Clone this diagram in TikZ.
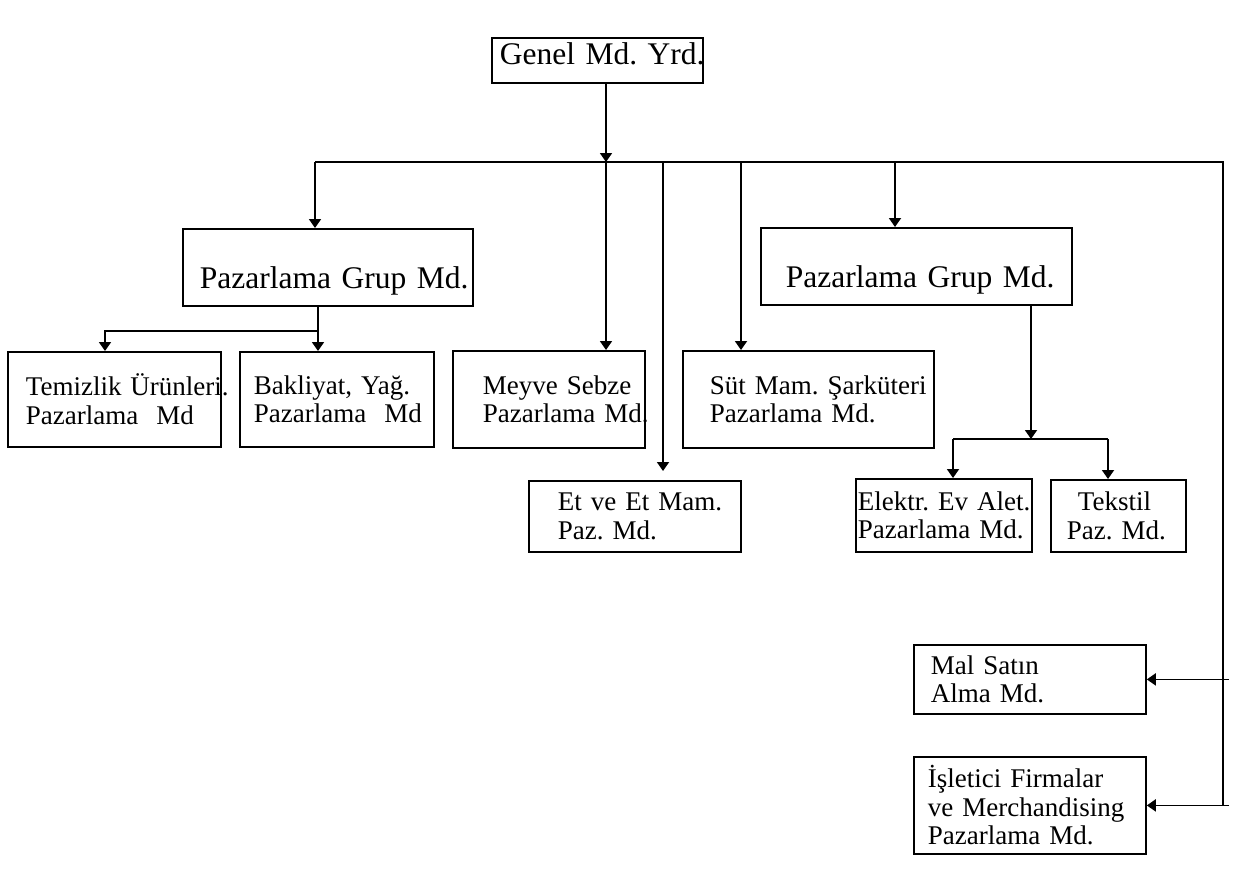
\documentclass[tikz,border=0pt]{standalone}
\usepackage{fontspec}
\setmainfont{Liberation Serif}
\usetikzlibrary{arrows.meta}
\frenchspacing
\begin{document}
\begin{tikzpicture}[x=1pt,y=-1pt,
  line width=1.8pt,
  arr/.style={-{Triangle[length=9pt,width=12pt]}},
  box/.style={draw, anchor=north west, inner ysep=0pt, align=left,
    font=\fontsize{27pt}{28.5pt}\selectfont},
  bigbox/.style={box, font=\fontsize{31.5pt}{33pt}\selectfont},
  grpbox/.style={bigbox, minimum height=77pt, text height=45pt, text depth=2pt},
]
\useasboundingbox (0,0) rectangle (1242,871);

% boxes
\node[bigbox, minimum width=211pt, minimum height=45pt, inner xsep=8pt,
  text width=195pt, text height=21pt, text depth=12pt] (top) at (491,37)
  {\mbox{Genel Md. Yrd.}};
\node[grpbox, minimum width=290pt, inner xsep=17pt, text width=256pt] (pgl) at (182,228)
  {\mbox{Pazarlama Grup Md.}};
\node[grpbox, minimum width=311pt, inner xsep=25pt, text width=261pt] (pgr) at (760,227)
  {\mbox{Pazarlama Grup Md.}};
\node[box, minimum width=213pt, minimum height=95pt, inner xsep=18pt, text width=177pt] (tem) at (7,351)
  {\mbox{Temizlik Ürünleri.}\\\mbox{Pazarlama\ \ Md}};
\node[box, minimum width=194pt, minimum height=95pt, inner xsep=14pt, text width=166pt] (bak) at (239,351)
  {\mbox{Bakliyat, Yağ.}\\\mbox{Pazarlama\ \ Md}};
\node[box, minimum width=192pt, minimum height=97pt, inner xsep=30pt, text width=132pt] (mey) at (452,350)
  {\mbox{Meyve Sebze}\\\mbox{Pazarlama Md.}};
\node[box, minimum width=251pt, minimum height=97pt, inner xsep=27pt, text width=197pt] (sut) at (682,350)
  {\mbox{Süt Mam. Şarküteri}\\\mbox{Pazarlama Md.}};
\node[box, minimum width=212pt, minimum height=71pt, inner xsep=29pt, text width=154pt] (et) at (528,480)
  {\mbox{Et ve Et Mam.}\\\mbox{Paz. Md.}};
\node[box, minimum width=176pt, minimum height=73pt, inner xsep=2pt, text width=172pt] (ele) at (855,478)
  {\mbox{Elektr. Ev Alet.}\\\mbox{Pazarlama Md.}};
\node[box, minimum width=135pt, minimum height=72pt, inner xsep=16pt, text width=103pt] (tek) at (1050,479)
  {\mbox{\hspace*{11pt}Tekstil}\\\mbox{Paz. Md.}};
\node[box, minimum width=232pt, minimum height=69pt, inner xsep=17pt, text width=198pt] (mal) at (913,644)
  {\mbox{Mal Satın}\\\mbox{Alma Md.}};
\node[box, minimum width=232pt, minimum height=97pt, inner xsep=14pt, text width=204pt] (isl) at (913,756)
  {\mbox{İşletici Firmalar}\\\mbox{ve Merchandising}\\\mbox{Pazarlama Md.}};

% bus points
\coordinate (busL) at (315,162);
\coordinate (busM) at (606,162);
\coordinate (busE) at (663,162);
\coordinate (busS) at (741,162);
\coordinate (busP) at (895,162);
\coordinate (busR) at (1223,162);
\coordinate (subL) at (318,331);
\coordinate (subT) at (105,331);
\coordinate (subR) at (1031,439);
\coordinate (subE) at (953,439);
\coordinate (subX) at (1108,439);

% connectors
\draw (busL) -- (busR) -- (busR |- isl.east);
\draw[arr] (top.south -| busM) -- (busM);
\draw[arr] (busL) -- (busL |- pgl.north);
\draw[arr] (busM) -- (busM |- mey.north);
\draw[arr, shorten >=9pt] (busE) -- (busE |- et.north);
\draw[arr] (busS) -- (busS |- sut.north);
\draw[arr] (busP) -- (busP |- pgr.north);
\draw[arr] (pgl.south -| subL) -- (subL |- bak.north);
\draw[arr] (subL) -- (subT) -- (subT |- tem.north);
\draw[arr] (pgr.south -| subR) -- (subR);
\draw (subE) -- (subX);
\draw[arr] (subE) -- (subE |- ele.north);
\draw[arr] (subX) -- (subX |- tek.north);
\draw[arr] ([xshift=6pt]busR |- mal.east) -- (mal.east);
\draw[arr] ([xshift=6pt]busR |- isl.east) -- (isl.east);
\end{tikzpicture}
\end{document}
